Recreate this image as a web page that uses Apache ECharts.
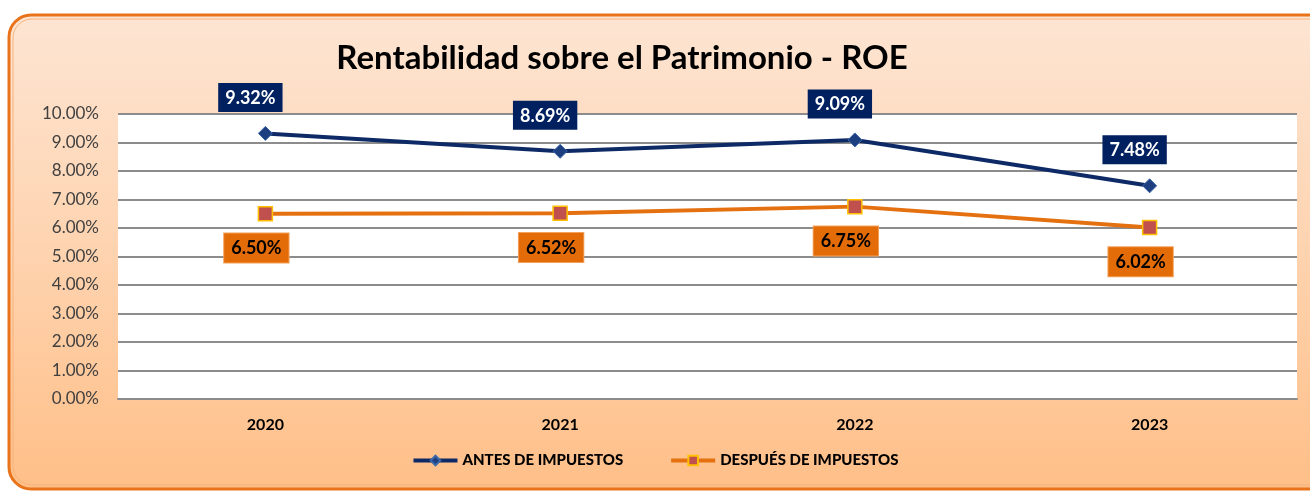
<!DOCTYPE html>
<html>
<head>
<meta charset="utf-8">
<script src="https://cdn.jsdelivr.net/npm/echarts@6/dist/echarts.min.js"></script>
<style>
  html, body { margin: 0; padding: 0; background: #ffffff; }
  #chart { width: 1310px; height: 493px; }
</style>
</head>
<body>
<div id="chart"></div>
<script>
// chart data
const years = ["2020", "2021", "2022", "2023"];
const antesImpuestos = [9.32, 8.69, 9.09, 7.48];
const despuesImpuestos = [6.50, 6.52, 6.75, 6.02];
const seriesNames = ["ANTES DE IMPUESTOS", "DESPUÉS DE IMPUESTOS"];

const font = "Lato, 'Open Sans', sans-serif";
const pct = (v) => v.toFixed(2) + "%";

const chart = echarts.init(document.getElementById("chart"));

chart.setOption({
  animation: false,
  textStyle: { fontFamily: font },
  graphic: [
    {
      // rounded peach frame behind everything
      type: "rect",
      z: -10,
      shape: { x: 9, y: 15, width: 1330, height: 474, r: 22 },
      style: {
        fill: new echarts.graphic.LinearGradient(0, 0, 0, 1, [
          { offset: 0, color: "#fde5d3" },
          { offset: 0.45, color: "#fed5b3" },
          { offset: 1, color: "#ffbf88" }
        ]),
        stroke: "#e8731b",
        lineWidth: 3
      }
    },
    {
      type: "rect",
      z: -9,
      shape: { x: 13, y: 19, width: 1330, height: 466, r: 19 },
      style: { fill: "none", stroke: "#f7b27a", lineWidth: 1 }
    }
  ],
  title: {
    text: "Rentabilidad sobre el Patrimonio - ROE",
    left: 617,
    textAlign: "center",
    top: 37,
    textStyle: { fontFamily: font, fontSize: 33, fontWeight: "bold", color: "#000" }
  },
  legend: {
    bottom: 20,
    left: "center",
    itemWidth: 44,
    itemHeight: 12,
    itemGap: 46,
    lineStyle: { width: 4 },
    textStyle: { fontFamily: font, fontSize: 15, fontWeight: 900, color: "#000" },
    data: seriesNames
  },
  grid: {
    left: 118,
    right: 13,
    top: 114,
    bottom: 94,
    show: true,
    backgroundColor: "#ffffff",
    borderWidth: 0
  },
  xAxis: {
    type: "category",
    data: years,
    boundaryGap: true,
    axisLine: { show: true, lineStyle: { color: "#8c8c8c", width: 2 } },
    axisTick: { show: false },
    axisLabel: { margin: 18, fontFamily: font, fontSize: 16, fontWeight: "bold", color: "#000" }
  },
  yAxis: {
    type: "value",
    min: 0,
    max: 10,
    interval: 1,
    axisLine: { show: false },
    axisTick: { show: false },
    splitLine: { lineStyle: { color: "#8c8c8c", width: 2 } },
    axisLabel: { margin: 19, fontFamily: font, fontSize: 17, color: "#404040", formatter: pct }
  },
  series: [
    {
      name: seriesNames[0],
      type: "line",
      data: antesImpuestos,
      symbol: "diamond",
      symbolSize: 14,
      lineStyle: { color: "#0e2a66", width: 4 },
      itemStyle: { color: "#1d3f80", borderColor: "#3b66a8", borderWidth: 1 },
      label: {
        show: true,
        position: "top",
        distance: 14,
        offset: [-15, 0],
        formatter: (p) => pct(p.value),
        backgroundColor: "#002060",
        color: "#ffffff",
        fontFamily: font,
        fontSize: 18,
        fontWeight: "bold",
        padding: [6, 7, 5, 7]
      }
    },
    {
      name: seriesNames[1],
      type: "line",
      data: despuesImpuestos,
      symbol: "rect",
      symbolSize: 14,
      lineStyle: { color: "#e4700f", width: 4 },
      itemStyle: { color: "#c0504d", borderColor: "#ffc000", borderWidth: 1.5 },
      label: {
        show: true,
        position: "bottom",
        distance: 12,
        offset: [-9, 0],
        formatter: (p) => pct(p.value),
        backgroundColor: "#e36c09",
        borderColor: "#f4a05a",
        borderWidth: 1,
        color: "#000000",
        fontFamily: font,
        fontSize: 18,
        fontWeight: "bold",
        padding: [6, 7, 5, 7]
      }
    }
  ]
});
</script>
</body>
</html>
